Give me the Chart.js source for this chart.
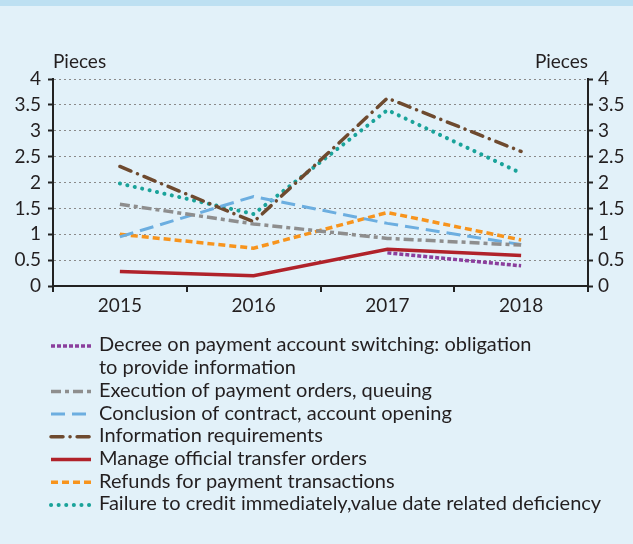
<!DOCTYPE html>
<html>
<head>
<meta charset="utf-8">
<script src="https://cdn.jsdelivr.net/npm/chart.js@4.4.1/dist/chart.umd.min.js"></script>
<style>
  html, body { margin: 0; padding: 0; background: #e2f1f9; }
  #topStrip { position: absolute; left: 0; top: 0; width: 633px; height: 6px; background: #bde0f2; }
  #complaintsChart { position: absolute; left: 0; top: 0; }
</style>
</head>
<body>
<canvas id="complaintsChart" width="633" height="544"></canvas>
<div id="topStrip"></div>
<script>
const years = ["2015", "2016", "2017", "2018"];

const decreeValues = [null, null, 0.64, 0.39];
const executionValues = [1.58, 1.2, 0.92, 0.79];
const conclusionValues = [0.95, 1.73, 1.21, 0.8];
const informationValues = [2.31, 1.24, 3.63, 2.6];
const manageValues = [0.28, 0.2, 0.71, 0.59];
const refundsValues = [1.0, 0.73, 1.42, 0.89];
const failureValues = [1.98, 1.39, 3.4, 2.18];

const axisTitle = "Pieces";
const textColor = "#231f20";
const fontFamily = "Lato, 'Open Sans', sans-serif";

function lineSeries(label, values, color, dash, width, cap) {
  return {
    label: label,
    data: values,
    borderColor: color,
    backgroundColor: color,
    borderDash: dash,
    borderWidth: width,
    borderCapStyle: cap || "butt",
    pointRadius: 0,
    tension: 0,
    spanGaps: false,
  };
}

const datasets = [
  lineSeries("Decree on payment account switching: obligation\nto provide information", decreeValues, "#8b3f9d", [4, 2], 3.5),
  lineSeries("Execution of payment orders, queuing", executionValues, "#8e8e8e", [10, 4, 4, 4], 3.5),
  lineSeries("Conclusion of contract, account opening", conclusionValues, "#6caee0", [14, 7], 3),
  lineSeries("Information requirements", informationValues, "#6e4a2f", [12, 7, 0.1, 7], 3.5, "round"),
  lineSeries("Manage official transfer orders", manageValues, "#b0222a", [], 3.5),
  lineSeries("Refunds for payment transactions", refundsValues, "#f7941d", [7, 4], 3.5),
  lineSeries("Failure to credit immediately,value date related deficiency", failureValues, "#1aa39a", [0.1, 7.5], 4, "round"),
];

// "Pieces" over both y axes
const axisTitlePlugin = {
  id: "axisTitles",
  afterDraw(chart) {
    const ctx = chart.ctx;
    const area = chart.chartArea;
    ctx.save();
    ctx.fillStyle = textColor;
    ctx.font = "19px " + fontFamily;
    ctx.textBaseline = "alphabetic";
    ctx.textAlign = "left";
    ctx.fillText(axisTitle, area.left, 68);
    ctx.textAlign = "right";
    ctx.fillText(axisTitle, area.right, 68);
    ctx.restore();
  },
};

// legend below the plot, one row per line, label may wrap with \n
const legendPlugin = {
  id: "lineLegend",
  afterDraw(chart) {
    const ctx = chart.ctx;
    const rowHeight = 22.7;
    let y = 345;
    ctx.save();
    ctx.font = "20px " + fontFamily;
    ctx.textBaseline = "middle";
    ctx.textAlign = "left";
    chart.data.datasets.forEach((ds) => {
      ctx.beginPath();
      ctx.strokeStyle = ds.borderColor;
      ctx.lineWidth = ds.borderWidth;
      ctx.lineCap = ds.borderCapStyle;
      ctx.setLineDash(ds.borderDash);
      ctx.moveTo(51, y + 1);
      ctx.lineTo(91, y + 1);
      ctx.stroke();
      ctx.setLineDash([]);
      ctx.fillStyle = textColor;
      ds.label.split("\n").forEach((line) => {
        ctx.fillText(line, 99, y);
        y += rowHeight;
      });
    });
    ctx.restore();
  },
};

const tickFont = { family: fontFamily, size: 19 };
const plainNumber = (value) => String(value);

new Chart(document.getElementById("complaintsChart"), {
  type: "line",
  data: { labels: years, datasets: datasets },
  plugins: [axisTitlePlugin, legendPlugin],
  options: {
    responsive: false,
    animation: false,
    layout: { padding: { top: 79, bottom: 228, left: 0, right: 0 } },
    plugins: { legend: { display: false }, tooltip: { enabled: false } },
    scales: {
      x: {
        offset: true,
        afterFit: (scale) => { scale.height = 30; },
        grid: { offset: true, drawOnChartArea: false, color: "#222", lineWidth: 2, tickLength: 6 },
        border: { color: "#222", width: 2 },
        ticks: { color: textColor, font: tickFont, padding: 2 },
      },
      y: {
        position: "left",
        min: 0,
        max: 4,
        afterFit: (scale) => { scale.width = 53; },
        grid: { color: "#8a8a8a", lineWidth: 1, tickColor: "#222", tickWidth: 2, tickLength: 5 },
        border: { color: "#222", width: 2, dash: [2, 3] },
        ticks: { stepSize: 0.5, color: textColor, font: tickFont, padding: 7, callback: plainNumber },
      },
      y2: {
        position: "right",
        min: 0,
        max: 4,
        afterFit: (scale) => { scale.width = 45; },
        grid: { drawOnChartArea: false, tickColor: "#222", tickWidth: 2, tickLength: 5 },
        border: { color: "#222", width: 2 },
        ticks: { stepSize: 0.5, color: textColor, font: tickFont, padding: 5, callback: plainNumber },
      },
    },
  },
});
</script>
</body>
</html>
